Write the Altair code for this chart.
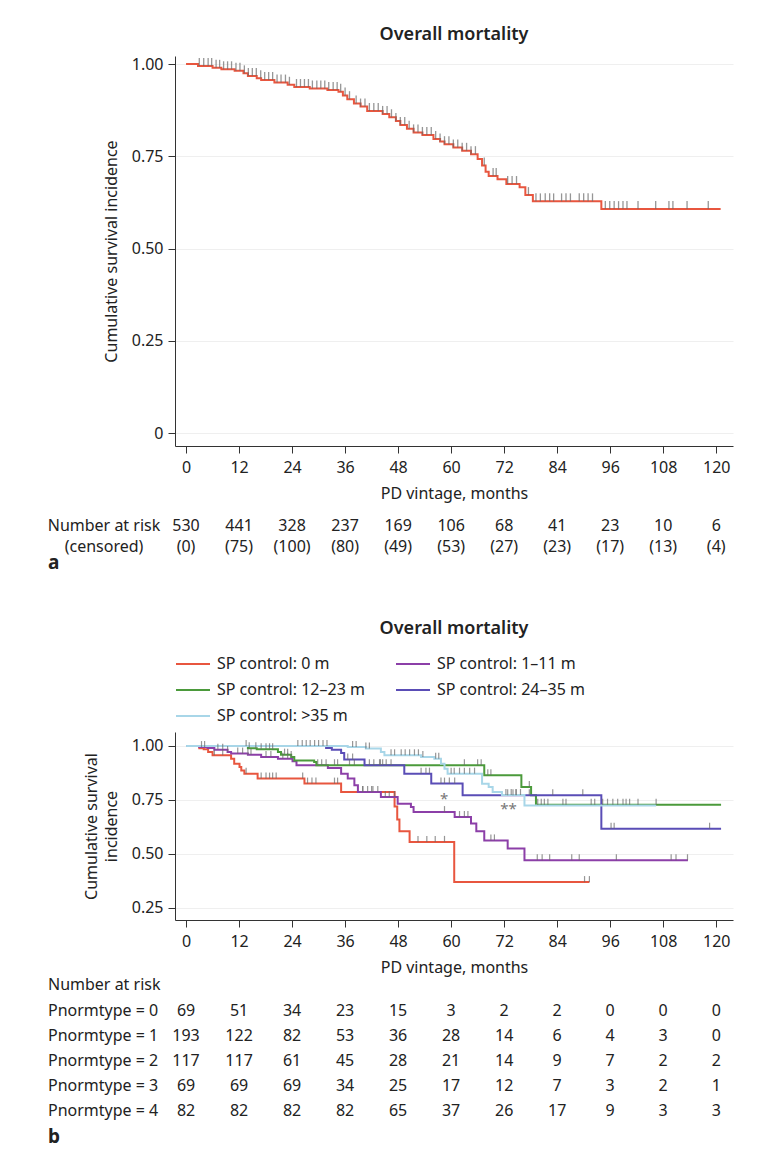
import altair as alt
import pandas as pd

FONT = "Noto Sans"
INK = "#222222"
TICK_GRAY = "#6a6a6a"

months = [0, 12, 24, 36, 48, 60, 72, 84, 96, 108, 120]

# ---------------- panel a : overall ----------------
top_t = [0, 2.7, 6, 8, 11, 13, 14, 16, 17, 20, 23, 24.5, 28, 32, 34.5, 35.5, 36.5, 38,
         39.5, 41, 44.5, 46, 47.5, 48.5, 50, 51.5, 53.5, 56, 57.5, 58.5, 60.5, 62.5,
         64.5, 66, 67, 67.8, 68.5, 70.5, 72.5, 75.5, 76.8, 78.5, 94, 121]
top_s = [1.0, 0.995, 0.99, 0.986, 0.982, 0.975, 0.968, 0.962, 0.957, 0.950, 0.944,
         0.938, 0.934, 0.930, 0.925, 0.915, 0.905, 0.893, 0.885, 0.873, 0.865, 0.856,
         0.846, 0.835, 0.825, 0.815, 0.808, 0.797, 0.790, 0.783, 0.774, 0.765, 0.756,
         0.743, 0.725, 0.708, 0.697, 0.688, 0.675, 0.666, 0.645, 0.628, 0.607, 0.607]
top_censor = [3, 4, 5, 5.8, 6.8, 7.6, 8.5, 9.4, 10.3, 11.3, 12.2, 13.2, 14.1, 15, 15.9,
              16.9, 17.8, 18.7, 19.6, 20.6, 21.5, 22.5, 23.4, 25, 25.9, 26.8, 27.7, 28.6,
              29.6, 30.5, 31.4, 32.3, 33.3, 34.2, 35, 36, 37, 38.5, 39.5, 40.5, 41.5,
              42.5, 43.5, 44.5, 45.5, 46.5, 47.5, 48.5, 49.5, 50.5, 51.5, 52.5, 53.5,
              54.5, 55.5, 56.5, 57.5, 58.5, 59.5, 60.5, 61.5, 62.5, 63.5, 64.5, 65.5,
              67.5, 69.5, 70.2, 72.8, 73.8, 74.8, 77.5, 79.2, 80.2, 81.3, 82.3, 83.2, 85,
              86, 87, 89, 90, 91, 92, 94.9, 95.9, 96.9, 97.9, 98.9, 99.8, 102.3, 106.3,
              109.3, 110.2, 113.4, 118.2]
top_risk = [530, 441, 328, 237, 169, 106, 68, 41, 23, 10, 6]
top_cens = [0, 75, 100, 80, 49, 53, 27, 23, 17, 13, 4]

# ---------------- panel b : by SP control ----------------
group_names = ["SP control: 0 m", "SP control: 1\u201311 m", "SP control: 12\u201323 m",
               "SP control: 24\u201335 m", "SP control: >35 m"]
group_colors = ["#e8563f", "#8c3fa8", "#4b9a3b", "#5a4db6", "#a8d6e8"]

g0_t = [0, 3, 4, 5, 6, 10.2, 10.9, 12.1, 12.5, 13.2, 16.2, 26.8, 35.1, 47.2, 47.8, 48.3,
        50.6, 60.7, 91.3]
g0_s = [1.0, 0.99, 0.985, 0.972, 0.957, 0.941, 0.918, 0.903, 0.887, 0.872, 0.849, 0.826,
        0.787, 0.72, 0.66, 0.605, 0.556, 0.37, 0.37]
g0_c = [6.4, 8.3, 13.6, 17.0, 18.1, 18.9, 19.6, 20.4, 26.4, 27.5, 28.5, 29.4, 33.6, 34.3,
        40, 42, 52.5, 54.5, 56.4, 58.5, 90.2, 91.3]

g1_t = [0, 3, 4.9, 6.4, 9.4, 10.2, 14, 17, 20.8, 24.1, 25, 32.1, 35.1, 36.6, 38.1, 38.9,
        44.1, 47.9, 50.9, 51.5, 60.8, 64.5, 65.7, 67.5, 72.8, 76.6, 113.6]
g1_s = [1.0, 0.995, 0.991, 0.983, 0.972, 0.965, 0.96, 0.949, 0.941, 0.929, 0.911, 0.898,
        0.872, 0.849, 0.818, 0.787, 0.764, 0.733, 0.718, 0.694, 0.671, 0.641, 0.605,
        0.563, 0.525, 0.471, 0.471]
g1_c = [3.5, 4.2, 7.2, 8.3, 9.4, 11.7, 12.8, 14.0, 14.7, 18.1, 19.2, 21.9, 23.0, 29.8,
        30.7, 31.7, 40.0, 41.1, 42.3, 43.4, 45.1, 46.0, 47.2, 58.5, 61.9, 63.0, 63.8, 69.0,
        69.8, 79.5, 80.6, 82.3, 87.3, 89.0, 97.4, 109.8, 110.9, 113.5]

g2_t = [0, 14, 16, 20.8, 21.5, 23.8, 24.5, 29, 29.5, 67.5, 75.9, 78.1, 79.2, 121.1]
g2_s = [1.0, 0.99, 0.985, 0.972, 0.96, 0.949, 0.933, 0.926, 0.911, 0.865, 0.81, 0.772,
        0.728, 0.728]
g2_c = [13.6, 14.3, 15.8, 17.0, 18.1, 18.9, 19.6, 22.3, 23.0, 23.8, 33.6, 34.3, 37.0,
        38.1, 43.8, 44.5, 45.3, 46.4, 63.0, 66.0, 66.8, 68.3, 69.0, 77.7, 79.6, 80.4, 81.1,
        81.9, 85.3, 86.0, 91.7, 92.5, 94.3, 95.4, 96.6, 97.7, 98.9, 99.6, 100.4, 102.3,
        106.4]

g3_t = [0, 31.7, 33, 35.1, 35.8, 40.4, 49.4, 55.5, 62.6, 94.0, 121.1]
g3_s = [1.0, 0.991, 0.983, 0.968, 0.937, 0.911, 0.872, 0.826, 0.772, 0.617, 0.617]
g3_c = [36.6, 37.7, 41.5, 42.5, 44.0, 53.2, 54.3, 55.1, 57.7, 58.5, 59.6, 60.8, 72.8,
        74.0, 74.7, 77.7, 83.0, 89.8, 96.2, 96.9, 118.5]

g4_t = [0, 36.6, 40.7, 44.1, 44.9, 53.2, 56.2, 57.7, 58.5, 59.2, 67.0, 68.5, 69.4, 71.5,
        76.6, 106.4]
g4_s = [1.0, 0.995, 0.988, 0.972, 0.957, 0.949, 0.941, 0.918, 0.895, 0.872, 0.825, 0.81,
        0.787, 0.773, 0.725, 0.725]
g4_c = [25.3, 26.3, 27.2, 28.1, 29.1, 30.0, 31.0, 31.9, 37.7, 38.5, 40.7, 41.5, 46.4,
        47.2, 48.7, 49.6, 50.6, 51.7, 52.6, 53.6, 56.5, 57.2, 60.0, 60.7, 61.9, 63.0,
        64.2, 65.3, 72.4, 73.6, 74.7, 75.7]

star_labels = ["*", "**"]
star_t = [58.4, 73.0]
star_s = [0.775, 0.727]

pnorm_labels = ["Pnormtype = 0", "Pnormtype = 1", "Pnormtype = 2", "Pnormtype = 3",
                "Pnormtype = 4"]
p0 = [69, 51, 34, 23, 15, 3, 2, 2, 0, 0, 0]
p1 = [193, 122, 82, 53, 36, 28, 14, 6, 4, 3, 0]
p2 = [117, 117, 61, 45, 28, 21, 14, 9, 7, 2, 2]
p3 = [69, 69, 69, 34, 25, 17, 12, 7, 3, 2, 1]
p4 = [82, 82, 82, 82, 65, 37, 26, 17, 9, 3, 3]


def step_frame(t, s, g):
    return pd.DataFrame({"t": t, "s": s, "group": g, "k": list(range(len(t)))})


def censor_frame(times, t, s, g):
    steps = pd.DataFrame({"t": [float(v) for v in t], "s": s})
    c = pd.DataFrame({"t": sorted(float(v) for v in times)})
    out = pd.merge_asof(c, steps, on="t", direction="backward")
    out["group"] = g
    return out


def text_layer(df, field, ypix, **kw):
    return alt.Chart(df).mark_text(font=FONT, fontSize=16, color=INK, baseline="middle",
                                   **kw).encode(x="t:Q", y=alt.value(ypix), text=f"{field}:N")


def label_layer(label, xpix, ypix, align="left", size=16, weight="normal"):
    df = pd.DataFrame({"label": [label]})
    return alt.Chart(df).mark_text(font=FONT, fontSize=size, color=INK, baseline="middle",
                                   align=align, fontWeight=weight).encode(
        x=alt.value(xpix), y=alt.value(ypix), text="label:N")


x_dom = [-2.5, 123.8]
label_expr = "datum.value == 0 ? '0' : format(datum.value, '.2f')"


def x_axis():
    return alt.Axis(values=months, title="PD vintage, months", grid=False, tickSize=7,
                    labelPadding=6, titlePadding=10)


title_params = dict(text="Overall mortality", font=FONT, fontSize=18, fontWeight=600,
                    color=INK, anchor="middle", frame="group")

# ---- panel a ----
W = 558
HA = 390
df_a = step_frame(top_t, top_s, "all")
cens_a = censor_frame(top_censor, top_t, top_s, "all")
y_scale_a = alt.Scale(domain=[-0.035, 1.022], nice=False, zero=False)

line_a = alt.Chart(df_a).mark_line(interpolate="step-after", color=group_colors[0],
                                   strokeWidth=2).encode(
    x=alt.X("t:Q", scale=alt.Scale(domain=x_dom, nice=False, zero=False), axis=x_axis()),
    y=alt.Y("s:Q", scale=y_scale_a,
            axis=alt.Axis(values=[0, 0.25, 0.5, 0.75, 1.0], labelExpr=label_expr,
                          title="Cumulative survival incidence", grid=True, tickSize=7,
                          labelPadding=5, titlePadding=12)),
    order="k:Q")
ticks_a = alt.Chart(cens_a).mark_tick(orient="vertical", color=TICK_GRAY, size=8,
                                      thickness=1.3, yOffset=-4).encode(x="t:Q", y="s:Q")

risk_a = pd.DataFrame({"t": months, "risk": [str(v) for v in top_risk],
                       "cens": [f"({v})" for v in top_cens]})
ROW1_A = 470
ROW2_A = 491
panel_a = alt.layer(
    line_a, ticks_a,
    text_layer(risk_a, "risk", ROW1_A),
    text_layer(risk_a, "cens", ROW2_A),
    label_layer("Number at risk", -71, ROW1_A, align="center"),
    label_layer("(censored)", -71, ROW2_A, align="center"),
    label_layer("a", -127, 507, size=19, weight="bold"),
).properties(width=W, height=HA, title=alt.TitleParams(offset=12, **title_params))

# ---- panel b ----
HB = 188
gt = [g0_t, g1_t, g2_t, g3_t, g4_t]
gs = [g0_s, g1_s, g2_s, g3_s, g4_s]
gc = [g0_c, g1_c, g2_c, g3_c, g4_c]
df_b = pd.concat([step_frame(gt[i], gs[i], group_names[i]) for i in range(5)],
                 ignore_index=True)
cens_b = pd.concat([censor_frame(gc[i], gt[i], gs[i], group_names[i]) for i in range(5)],
                   ignore_index=True)
y_scale_b = alt.Scale(domain=[0.1944, 1.0648], nice=False, zero=False)

line_b = alt.Chart(df_b).mark_line(interpolate="step-after", strokeWidth=2).encode(
    x=alt.X("t:Q", scale=alt.Scale(domain=x_dom, nice=False, zero=False), axis=x_axis()),
    y=alt.Y("s:Q", scale=y_scale_b,
            axis=alt.Axis(values=[0.25, 0.5, 0.75, 1.0], labelExpr=label_expr,
                          title=["Cumulative survival", "incidence"], grid=True,
                          tickSize=7, labelPadding=5, titlePadding=12,
                          titleLineHeight=20)),
    color=alt.Color("group:N", scale=alt.Scale(domain=group_names, range=group_colors),
                    legend=alt.Legend(orient="top", columns=2, title=None,
                                      symbolType="stroke", symbolSize=1156,
                                      symbolStrokeWidth=2, labelFontSize=16,
                                      labelFont=FONT, labelColor=INK, columnPadding=27,
                                      rowPadding=0, labelOffset=6, offset=8)),
    detail="group:N",
    order="k:Q")
ticks_b = alt.Chart(cens_b).mark_tick(orient="vertical", color=TICK_GRAY, size=6,
                                      thickness=1.2, yOffset=-3).encode(x="t:Q", y="s:Q")
stars = alt.Chart(pd.DataFrame({"t": star_t, "s": star_s, "lab": star_labels})).mark_text(
    font=FONT, fontSize=15, color="#777777", baseline="middle", dy=4).encode(
    x="t:Q", y="s:Q", text="lab:N")

risk_b = pd.DataFrame({"t": months, "r0": [str(v) for v in p0], "r1": [str(v) for v in p1],
                       "r2": [str(v) for v in p2], "r3": [str(v) for v in p3],
                       "r4": [str(v) for v in p4]})
NAR_B = 253
rows_b = [279, 304, 329, 354, 379]
layers_b = [line_b, ticks_b, stars, label_layer("Number at risk", -127, NAR_B)]
for i, yy in enumerate(rows_b):
    layers_b.append(text_layer(risk_b, f"r{i}", yy))
    layers_b.append(label_layer(pnorm_labels[i], -127, yy))
layers_b.append(label_layer("b", -127, 405, size=19, weight="bold"))

panel_b = alt.layer(*layers_b).properties(
    width=W, height=HB, title=alt.TitleParams(offset=8, **title_params))

chart = alt.vconcat(panel_a, panel_b, spacing=47).resolve_scale(
    color="independent").resolve_legend(color="independent").properties(
    padding={"left": 39, "top": 18, "right": 10, "bottom": 10},
    background="white",
).configure_view(stroke=None).configure_axis(
    domainColor="#333333", tickColor="#333333", labelColor=INK, titleColor=INK,
    labelFont=FONT, titleFont=FONT, labelFontSize=16, titleFontSize=16,
    titleFontWeight="normal", gridColor="#efefef", gridWidth=1
)

chart.save("out.html", embed_options={"renderer": "svg", "actions": False})
